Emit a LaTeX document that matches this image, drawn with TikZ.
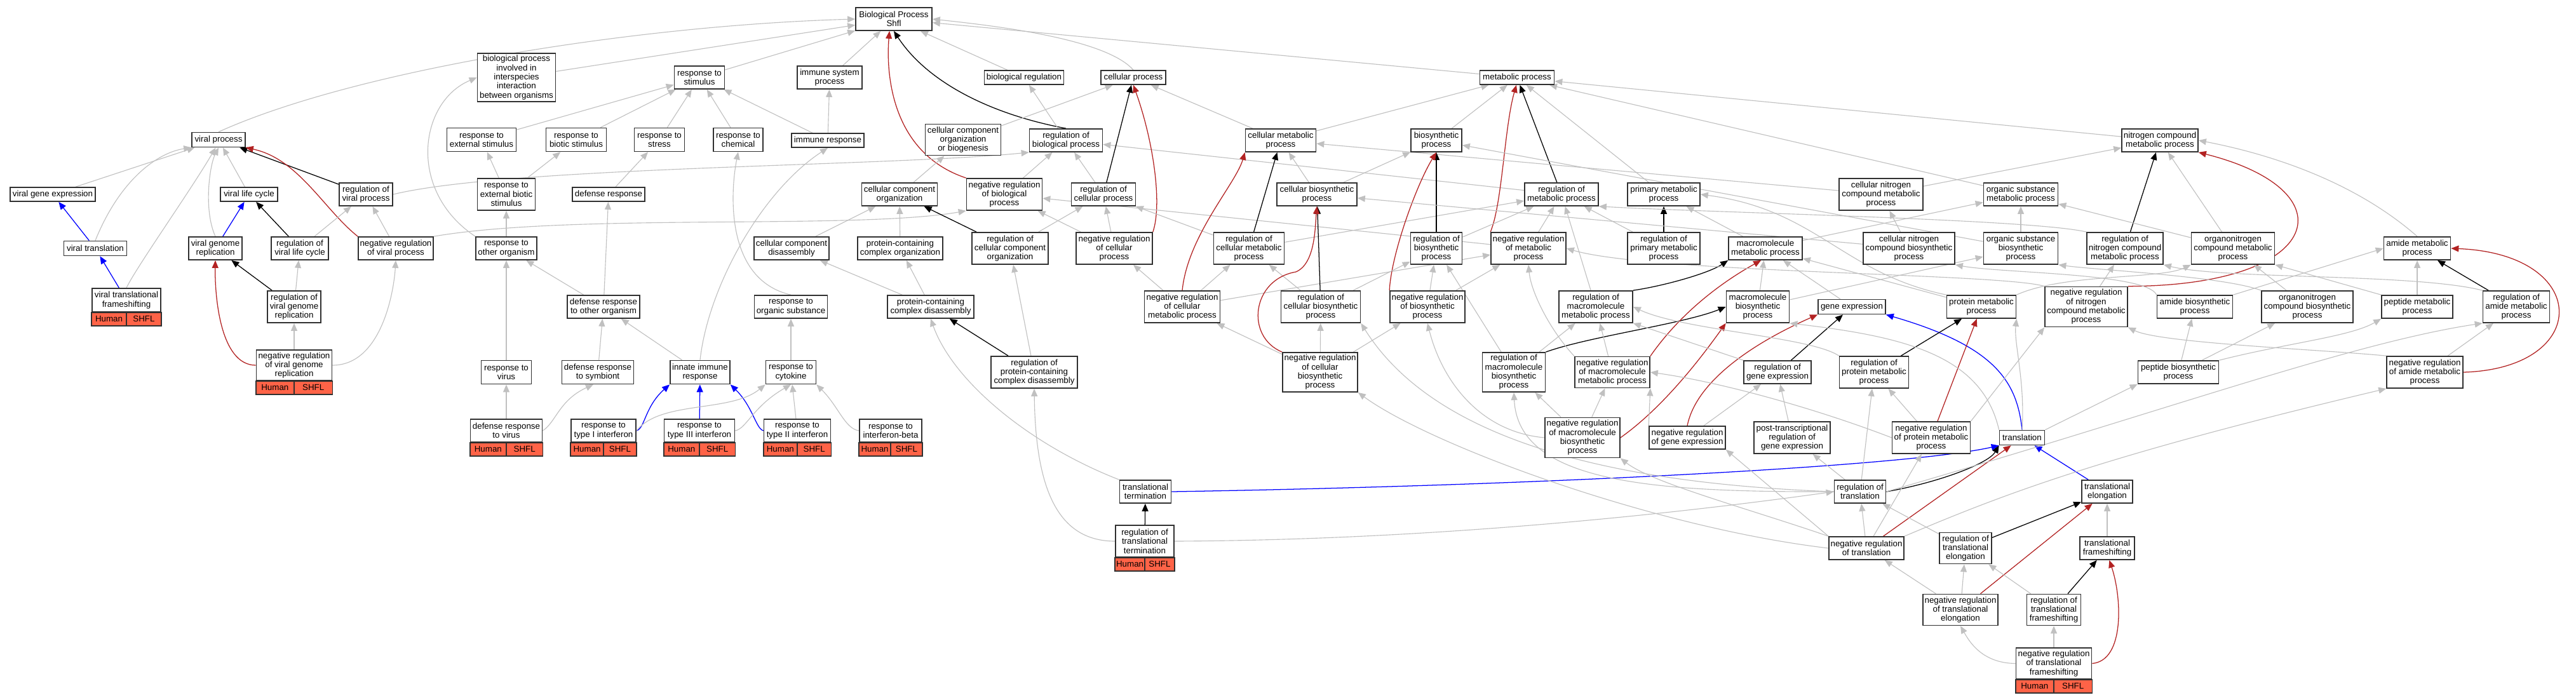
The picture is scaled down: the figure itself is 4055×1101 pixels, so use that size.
\documentclass[tikz,border=0pt]{standalone}
\usepackage{fontspec}
\setmainfont{Liberation Sans}
\usetikzlibrary{arrows.meta,calc,backgrounds}

\definecolor{isagray}{RGB}{192,192,192}
\definecolor{negred}{RGB}{178,34,34}
\definecolor{partblue}{RGB}{0,0,255}
\definecolor{hitred}{RGB}{255,99,71}
\definecolor{boxline}{RGB}{48,48,48}

\tikzset{
  gobox/.style={draw=boxline, line width=1.2pt, fill=white, align=center, inner sep=0pt, font=\fontsize{9.5}{10.2}\selectfont},
  boxw/.style={minimum width=#1*0.025cm},
  boxh/.style={minimum height=#1*0.025cm},
  hitcell/.style={draw=boxline, line width=1.2pt, fill=hitred},
  hittext/.style={inner sep=0pt, font=\fontsize{9.5}{10.2}\selectfont},
  isa/.style={draw=isagray, line width=0.8pt, -{Triangle[length=3mm,width=2.5mm]}},
  reg/.style={draw=black, line width=0.9pt, -{Triangle[length=3mm,width=2.5mm]}},
  negreg/.style={draw=negred, line width=0.9pt, -{Triangle[length=3mm,width=2.5mm]}},
  partof/.style={draw=partblue, line width=0.9pt, -{Triangle[length=3mm,width=2.5mm]}},
}

% Human / SHFL strip under a hit term
\newcommand{\hitrow}[1]{%
  \coordinate (#1-a) at (#1.south west);
  \coordinate (#1-b) at (#1.south);
  \coordinate (#1-c) at (#1.south east);
  \draw[hitcell] (#1-a) rectangle ($(#1-b)+(0,21)$);
  \draw[hitcell] (#1-b) rectangle ($(#1-c)+(0,21)$);
  \node[hittext] (#1-h) at ($(#1-a)!.5!(#1-b)+(0,10.5)$) {Human};
  \node[hittext] (#1-s) at ($(#1-b)!.5!(#1-c)+(0,10.5)$) {SHFL};}

\begin{document}
\begin{tikzpicture}[x=0.025cm, y=-0.025cm]
\useasboundingbox (0,0) rectangle (4055,1101);

% Root
\node[gobox, boxw=120, boxh=36] (bp) at (1407,30) {Biological Process\\Shfl};

% First row
\node[gobox, boxw=123, boxh=76] (bpii) at (813,122) {biological process\\involved in\\interspecies\\interaction\\between organisms};
\node[gobox, boxw=79, boxh=36] (rts) at (1101,122) {response to\\stimulus};
\node[gobox, boxw=102, boxh=36] (isp) at (1306,122) {immune system\\process};
\node[gobox, boxw=125, boxh=22] (br) at (1612,122) {biological regulation};
\node[gobox, boxw=102, boxh=22] (cp) at (1784,122) {cellular process};
\node[gobox, boxw=117, boxh=22] (mp) at (2388,122) {metabolic process};

% Second row
\node[gobox, boxw=84, boxh=23] (vp) at (344,220) {viral process};
\node[gobox, boxw=109, boxh=37] (res) at (758,220) {response to\\external stimulus};
\node[gobox, boxw=95, boxh=37] (rbs) at (907,220) {response to\\biotic stimulus};
\node[gobox, boxw=79, boxh=37] (rtst) at (1038,220) {response to\\stress};
\node[gobox, boxw=78, boxh=37] (rtc) at (1162,220) {response to\\chemical};
\node[gobox, boxw=114, boxh=22] (ir) at (1303,221) {immune response};
\node[gobox, boxw=119, boxh=49] (ccob) at (1516,220) {cellular component\\organization\\or biogenesis};
\node[gobox, boxw=115, boxh=36] (rbp) at (1678,221) {regulation of\\biological process};
\node[gobox, boxw=111, boxh=36] (cmp) at (2016,221) {cellular metabolic\\process};
\node[gobox, boxw=80, boxh=36] (bsp) at (2261,221) {biosynthetic\\process};
\node[gobox, boxw=120, boxh=36] (ncmp) at (3400,221) {nitrogen compound\\metabolic process};

% Third row
\node[gobox, boxw=134, boxh=22] (vge) at (83,306) {viral gene expression};
\node[gobox, boxw=90, boxh=22] (vlc) at (392,306) {viral life cycle};
\node[gobox, boxw=84, boxh=36] (rvp) at (576,306) {regulation of\\viral process};
\node[gobox, boxw=91, boxh=50] (rebs) at (797,306) {response to\\external biotic\\stimulus};
\node[gobox, boxw=114, boxh=22] (dr) at (958,306) {defense response};
\node[gobox, boxw=119, boxh=36] (cco) at (1416,306) {cellular component\\organization};
\node[gobox, boxw=119, boxh=50] (nrbp) at (1581,306) {negative regulation\\of biological\\process};
\node[gobox, boxw=101, boxh=36] (rcp) at (1737,306) {regulation of\\cellular process};
\node[gobox, boxw=126, boxh=36] (cbp) at (2073,306) {cellular biosynthetic\\process};
\node[gobox, boxw=116, boxh=36] (rmp) at (2458,306) {regulation of\\metabolic process};
\node[gobox, boxw=114, boxh=36] (pmp) at (2619,306) {primary metabolic\\process};
\node[gobox, boxw=132, boxh=50] (cncmp) at (2961,306) {cellular nitrogen\\compound metabolic\\process};
\node[gobox, boxw=117, boxh=36] (osmp) at (3181,306) {organic substance\\metabolic process};

% Fourth row
\node[gobox, boxw=99, boxh=23] (vt) at (150,391) {viral translation};
\node[gobox, boxw=84, boxh=36] (vgr) at (339,391) {viral genome\\replication};
\node[gobox, boxw=90, boxh=36] (rvlc) at (472,391) {regulation of\\viral life cycle};
\node[gobox, boxw=118, boxh=36] (nrvp) at (623,391) {negative regulation\\of viral process};
\node[gobox, boxw=96, boxh=36] (rtoo) at (797,391) {response to\\other organism};
\node[gobox, boxw=118, boxh=36] (ccd) at (1246,391) {cellular component\\disassembly};
\node[gobox, boxw=134, boxh=36] (pcco) at (1417,391) {protein-containing\\complex organization};
\node[gobox, boxw=120, boxh=50] (rcco) at (1590,391) {regulation of\\cellular component\\organization};
\node[gobox, boxw=120, boxh=50] (nrcp) at (1754,391) {negative regulation\\of cellular\\process};
\node[gobox, boxw=111, boxh=50] (rcmp) at (1966,391) {regulation of\\cellular metabolic\\process};
\node[gobox, boxw=81, boxh=50] (rbsp) at (2261,391) {regulation of\\biosynthetic\\process};
\node[gobox, boxw=118, boxh=50] (nrmp) at (2406,391) {negative regulation\\of metabolic\\process};
\node[gobox, boxw=114, boxh=50] (rpmp) at (2619,391) {regulation of\\primary metabolic\\process};
\node[gobox, boxw=116, boxh=36] (mmp) at (2779,391) {macromolecule\\metabolic process};
\node[gobox, boxw=144, boxh=50] (cncbp) at (3005,391) {cellular nitrogen\\compound biosynthetic\\process};
\node[gobox, boxw=117, boxh=50] (osbp) at (3181,391) {organic substance\\biosynthetic\\process};
\node[gobox, boxw=120, boxh=50] (rncmp) at (3345,391) {regulation of\\nitrogen compound\\metabolic process};
\node[gobox, boxw=131, boxh=50] (oncmp) at (3515,391) {organonitrogen\\compound metabolic\\process};
\node[gobox, boxw=105, boxh=36] (amp) at (3805,391) {amide metabolic\\process};

% Fifth row
\node[gobox, boxw=108, boxh=37] (vtf) at (199,472.5) {viral translational\\frameshifting};
\node[gobox, boxw=84, boxh=50] (rvgr) at (463,483) {regulation of\\viral genome\\replication};
\node[gobox, boxw=114, boxh=36] (drtoo) at (950,483) {defense response\\to other organism};
\node[gobox, boxw=115, boxh=36] (rtos) at (1245,483) {response to\\organic substance};
\node[gobox, boxw=136, boxh=36] (pccd) at (1465,483) {protein-containing\\complex disassembly};
\node[gobox, boxw=119, boxh=50] (nrcmp) at (1861,483) {negative regulation\\of cellular\\metabolic process};
\node[gobox, boxw=125, boxh=50] (rcbp) at (2079,483) {regulation of\\cellular biosynthetic\\process};
\node[gobox, boxw=118, boxh=50] (nrbsp) at (2247,483) {negative regulation\\of biosynthetic\\process};
\node[gobox, boxw=116, boxh=50] (rmmp) at (2512,483) {regulation of\\macromolecule\\metabolic process};
\node[gobox, boxw=99, boxh=50] (mbp) at (2767,483) {macromolecule\\biosynthetic\\process};
\node[gobox, boxw=106, boxh=23] (ge) at (2915,483) {gene expression};
\node[gobox, boxw=109, boxh=36] (prmp) at (3119,483) {protein metabolic\\process};
\node[gobox, boxw=130, boxh=63] (nrncmp) at (3284,483) {negative regulation\\of nitrogen\\compound metabolic\\process};
\node[gobox, boxw=119, boxh=36] (abp) at (3455,483) {amide biosynthetic\\process};
\node[gobox, boxw=144, boxh=50] (oncbp) at (3632,483) {organonitrogen\\compound biosynthetic\\process};
\node[gobox, boxw=112, boxh=36] (ptmp) at (3805,483) {peptide metabolic\\process};
\node[gobox, boxw=105, boxh=50] (ramp) at (3961,483) {regulation of\\amide metabolic\\process};

% Sixth row
\node[gobox, boxw=119, boxh=48] (nrvgr) at (463,575) {negative regulation\\of viral genome\\replication};
\node[gobox, boxw=79, boxh=37] (rtv) at (797,586) {response to\\virus};
\node[gobox, boxw=113, boxh=37] (drts) at (941,586) {defense response\\to symbiont};
\node[gobox, boxw=94, boxh=37] (iir) at (1102,586) {innate immune\\response};
\node[gobox, boxw=79, boxh=37] (rtcy) at (1245,586) {response to\\cytokine};
\node[gobox, boxw=136, boxh=50] (rpccd) at (1628,586) {regulation of\\protein-containing\\complex disassembly};
\node[gobox, boxw=118, boxh=62] (nrcbp) at (2078,586) {negative regulation\\of cellular\\biosynthetic\\process};
\node[gobox, boxw=99, boxh=62] (rmbp) at (2383,586) {regulation of\\macromolecule\\biosynthetic\\process};
\node[gobox, boxw=118, boxh=49] (nrmmp) at (2538,586) {negative regulation\\of macromolecule\\metabolic process};
\node[gobox, boxw=106, boxh=36] (rge) at (2798,586) {regulation of\\gene expression};
\node[gobox, boxw=109, boxh=50] (rprmp) at (2950,586) {regulation of\\protein metabolic\\process};
\node[gobox, boxw=127, boxh=36] (pbp) at (3429,586) {peptide biosynthetic\\process};
\node[gobox, boxw=120, boxh=50] (nramp) at (3817,586) {negative regulation\\of amide metabolic\\process};

% Seventh row
\node[gobox, boxw=113, boxh=36] (drtv) at (797,678) {defense response\\to virus};
\node[gobox, boxw=102, boxh=36] (rt1) at (950,678) {response to\\type I interferon};
\node[gobox, boxw=111, boxh=36] (rt3) at (1101,678) {response to\\type III interferon};
\node[gobox, boxw=105, boxh=36] (rt2) at (1255,678) {response to\\type II interferon};
\node[gobox, boxw=98, boxh=36] (rtib) at (1402,678) {response to\\interferon-beta};
\node[gobox, boxw=118, boxh=63] (nrmbp) at (2491,689) {negative regulation\\of macromolecule\\biosynthetic\\process};
\node[gobox, boxw=120, boxh=36] (nrge) at (2656,689) {negative regulation\\of gene expression};
\node[gobox, boxw=120, boxh=50] (ptrge) at (2821,689) {post-transcriptional\\regulation of\\gene expression};
\node[gobox, boxw=123, boxh=50] (nrprmp) at (3040,689) {negative regulation\\of protein metabolic\\process};
\node[gobox, boxw=71, boxh=23] (tr) at (3183,689) {translation};

% Translation rows
\node[gobox, boxw=81, boxh=36] (tt) at (1803,774) {translational\\termination};
\node[gobox, boxw=81, boxh=36] (rt) at (2928,774) {regulation of\\translation};
\node[gobox, boxw=80, boxh=36] (te) at (3317,774) {translational\\elongation};
\node[gobox, boxw=92, boxh=50] (rtt) at (1802,852) {regulation of\\translational\\termination};
\node[gobox, boxw=118, boxh=36] (nrt) at (2938,863) {negative regulation\\of translation};
\node[gobox, boxw=82, boxh=49] (rte) at (3094,863) {regulation of\\translational\\elongation};
\node[gobox, boxw=86, boxh=36] (tf) at (3317,863) {translational\\frameshifting};
\node[gobox, boxw=118, boxh=49] (nrte) at (3086,960) {negative regulation\\of translational\\elongation};
\node[gobox, boxw=85, boxh=49] (rtf) at (3233,960) {regulation of\\translational\\frameshifting};
\node[gobox, boxw=119, boxh=49] (nrtf) at (3233,1044.5) {negative regulation\\of translational\\frameshifting};

% Hit strips
\hitrow{vtf}
\hitrow{nrvgr}
\hitrow{drtv}
\hitrow{rt1}
\hitrow{rt3}
\hitrow{rt2}
\hitrow{rtib}
\hitrow{rtt}
\hitrow{nrtf}

\begin{scope}[on background layer]
% Edges into the root
\draw[isa] (vp.north) .. controls (560,110) and (1000,40) .. (bp.west);
\draw[isa] (bpii) -- (bp);
\draw[isa] (rts) -- (bp);
\draw[isa] (isp) -- (bp);
\draw[isa] (br) -- (bp);
\draw[isa] (cp.north) .. controls (1740,60) and (1560,40) .. (bp.east);
\draw[isa] (mp) -- (bp);
\draw[reg] (rbp.north) .. controls (1560,180) and (1460,130) .. (bp.south);
\draw[negreg] (nrbp.north west) .. controls (1400,240) and (1395,110) .. (bp.250);

% Viral branch
\draw[isa] (vge) -- (vp);
\draw[isa] (vlc) -- (vp);
\draw[isa] (vt.north) .. controls (190,280) and (250,240) .. (vp.south west);
\draw[isa] (vgr.north) .. controls (320,330) and (330,260) .. (vp.south);
\draw[isa] (vtf.north) .. controls (215,420) and (300,300) .. (vp.250);
\draw[reg] (rvp) -- (vp);
\draw[negreg] (nrvp.north west) .. controls (510,330) and (470,250) .. (vp.south east);
\draw[partof] (vt) -- (vge);
\draw[partof] (vtf) -- (vt);
\draw[partof] (vgr) -- (vlc);
\draw[reg] (rvlc) -- (vlc);
\draw[isa] (rvlc) -- (rvp);
\draw[isa] (nrvp) -- (rvp);
\draw[reg] (rvgr) -- (vgr);
\draw[isa] (rvgr) -- (rvlc);
\draw[isa] (nrvgr) -- (rvgr);
\draw[negreg] (nrvgr.west) .. controls (345,575) and (338,460) .. (vgr.south);
\draw[isa] (nrvgr.east) .. controls (600,575) and (620,460) .. (nrvp.south);
\draw[isa] (rvp.east) .. controls (800,262) and (1400,262) .. (rbp.south west);
\draw[isa] (nrvp.north east) .. controls (900,335) and (1350,362) .. (nrbp.south west);

% Response branch
\draw[isa] (rtoo.north west) .. controls (640,300) and (660,160) .. (bpii.west);
\draw[isa] (res) -- (rts);
\draw[isa] (rbs) -- (rts);
\draw[isa] (rtst) -- (rts);
\draw[isa] (rtc) -- (rts);
\draw[isa] (ir) -- (rts);
\draw[isa] (ir) -- (isp);
\draw[isa] (rebs) -- (res);
\draw[isa] (rebs) -- (rbs);
\draw[isa] (dr) -- (rtst);
\draw[isa] (rtoo) -- (rebs);
\draw[isa] (drtoo) -- (rtoo);
\draw[isa] (drtoo) -- (dr);
\draw[isa] (rtos.north) .. controls (1140,440) and (1150,300) .. (rtc.south);
\draw[isa] (rtv) -- (rtoo);
\draw[isa] (drts) -- (drtoo);
\draw[isa] (iir) -- (drtoo);
\draw[isa] (iir.north) .. controls (1115,450) and (1200,300) .. (ir.south);
\draw[isa] (rtcy) -- (rtos);
\draw[isa] (drtv) -- (rtv);
\draw[isa] (drtv.east) .. controls (875,665) and (880,630) .. (drts.250);
\draw[partof] (rt1.east) .. controls (1015,675) and (1015,640) .. (iir.south west);
\draw[partof] (rt3) -- (iir);
\draw[partof] (rt2.west) .. controls (1190,675) and (1185,640) .. (iir.south east);
\draw[isa] (rt1.east) .. controls (1040,630) and (1150,650) .. (rtcy.south west);
\draw[isa] (rt3.east) .. controls (1175,675) and (1185,640) .. (rtcy.south);
\draw[isa] (rt2) -- (rtcy);
\draw[isa] (rtib.west) .. controls (1330,675) and (1320,640) .. (rtcy.south east);

% Cellular process branch
\draw[isa] (ccob) -- (cp);
\draw[isa] (rbp) -- (br);
\draw[isa] (cmp) -- (cp);
\draw[isa] (cco) -- (ccob);
\draw[isa] (nrbp) -- (rbp);
\draw[isa] (rcp) -- (rbp);
\draw[isa] (rmp) -- (rbp);
\draw[reg] (rcp) -- (cp);
\draw[negreg] (nrcp.north east) .. controls (1830,320) and (1815,220) .. (cp.south);
\draw[isa] (pcco) -- (cco);
\draw[isa] (ccd) -- (cco);
\draw[reg] (rcco) -- (cco);
\draw[isa] (rcco) -- (rcp);
\draw[isa] (nrcp) -- (nrbp);
\draw[isa] (nrcp) -- (rcp);
\draw[isa] (nrmp) -- (nrbp);
\draw[isa] (rcmp) -- (rcp);
\draw[isa] (rcmp) -- (rmp);
\draw[isa] (pccd) -- (pcco);
\draw[isa] (pccd) -- (ccd);
\draw[isa] (nrcmp) -- (nrcp);
\draw[isa] (nrcmp) -- (rcmp);
\draw[isa] (nrcmp) -- (nrmp);
\draw[reg] (rcmp) -- (cmp);
\draw[negreg] (nrcmp.north) .. controls (1870,370) and (1945,290) .. (cmp.south west);
\draw[isa] (rpccd) -- (rcco);
\draw[reg] (rpccd) -- (pccd);
\draw[isa] (tt.north west) .. controls (1620,700) and (1500,600) .. (pccd.south);
\draw[reg] (rtt) -- (tt);
\draw[isa] (rtt.west) .. controls (1660,852) and (1630,760) .. (rpccd.south);
\draw[isa] (rtt.east) .. controls (2300,850) and (2700,800) .. (rt.west);
\draw[partof] (tt.east) .. controls (2400,765) and (3000,735) .. (tr.south west);

% Metabolic branch
\draw[isa] (cmp) -- (mp);
\draw[isa] (bsp) -- (mp);
\draw[isa] (pmp) -- (mp);
\draw[isa] (ncmp) -- (mp);
\draw[isa] (osmp) -- (mp);
\draw[reg] (rmp) -- (mp);
\draw[negreg] (nrmp.north west) .. controls (2365,320) and (2368,200) .. (mp.265);
\draw[isa] (cbp) -- (cmp);
\draw[isa] (cbp) -- (bsp);
\draw[isa] (cncmp) -- (cmp);
\draw[isa] (cncmp) -- (ncmp);
\draw[isa] (osbp) -- (bsp);
\draw[isa] (osbp) -- (osmp);
\draw[reg] (rbsp) -- (bsp);
\draw[negreg] (nrbsp.north west) .. controls (2190,400) and (2230,290) .. (bsp.south);
\draw[isa] (rbsp) -- (rmp);
\draw[isa] (nrmp) -- (rmp);
\draw[reg] (rpmp) -- (pmp);
\draw[isa] (rpmp) -- (rmp);
\draw[reg] (rcbp) -- (cbp);
\draw[isa] (rcbp) -- (rcmp);
\draw[isa] (rcbp) -- (rbsp);
\draw[isa] (nrbsp) -- (rbsp);
\draw[isa] (nrbsp) -- (nrmp);
\draw[isa] (rmmp) -- (rmp);
\draw[reg] (rmmp.north east) .. controls (2620,450) and (2690,430) .. (mmp.south west);
\draw[isa] (nrcbp) -- (rcbp);
\draw[isa] (nrcbp) -- (nrcmp);
\draw[isa] (nrcbp) -- (nrbsp);
\draw[negreg] (nrcbp.north west) .. controls (1960,530) and (1970,440) .. (2040,428) .. controls (2070,415) and (2070,360) .. (cbp.south);
\draw[isa] (rmbp) -- (rbsp);
\draw[isa] (rmbp) -- (rmmp);
\draw[reg] (rmbp.north east) .. controls (2500,530) and (2650,510) .. (mbp.west);
\draw[isa] (nrmmp) -- (rmmp);
\draw[isa] (nrmmp.north west) .. controls (2440,520) and (2410,460) .. (nrmp.south);
\draw[negreg] (nrmmp.north east) .. controls (2640,500) and (2700,450) .. (mmp.250);
\draw[isa] (nrmbp) -- (rmbp);
\draw[isa] (nrmbp) -- (nrmmp);
\draw[isa] (nrmbp.west) .. controls (2330,680) and (2270,600) .. (nrbsp.south);
\draw[negreg] (nrmbp.east) .. controls (2620,640) and (2680,560) .. (mbp.south west);
\draw[isa] (cncbp) -- (cncmp);
\draw[isa] (cncbp) -- (cbp);
\draw[reg] (rncmp) -- (ncmp);
\draw[isa] (rncmp.north west) .. controls (3200,345) and (2700,335) .. (rmp.south east);
\draw[isa] (mmp) -- (osmp);
\draw[isa] (mmp) -- (pmp);
\draw[isa] (mbp) -- (mmp);
\draw[isa] (mbp) -- (osbp);
\draw[isa] (ge) -- (mmp);
\draw[reg] (rge) -- (ge);
\draw[negreg] (nrge.north) .. controls (2670,600) and (2760,540) .. (ge.south west);
\draw[partof] (tr.north) .. controls (3175,600) and (3140,545) .. (ge.south east);
\draw[isa] (prmp) -- (mmp);
\draw[isa] (prmp.north west) .. controls (2900,430) and (2860,330) .. (pmp.east);
\draw[isa] (prmp.north east) .. controls (3250,430) and (3400,440) .. (oncmp.south west);
\draw[isa] (nrncmp) -- (rncmp);
\draw[isa] (nrncmp.north west) .. controls (3150,430) and (2600,430) .. (nrmp.east);
\draw[negreg] (nrncmp.north east) .. controls (3660,450) and (3700,300) .. (ncmp.south east);
\draw[isa] (oncmp) -- (ncmp);
\draw[isa] (oncmp) -- (osmp);
\draw[isa] (amp.north) .. controls (3700,280) and (3560,240) .. (ncmp.east);
\draw[isa] (abp.north east) -- (amp.west);
\draw[isa] (abp.north west) .. controls (3380,430) and (3150,430) .. (cncbp.south east);
\draw[isa] (oncbp) -- (oncmp);
\draw[isa] (oncbp.north west) .. controls (3500,435) and (3300,425) .. (osbp.south east);
\draw[isa] (ptmp) -- (amp);
\draw[isa] (ptmp.north west) -- (oncmp.south east);
\draw[reg] (ramp) -- (amp);
\draw[isa] (ramp.north west) .. controls (3800,430) and (3500,440) .. (rncmp.south east);
\draw[isa] (pbp) -- (abp);
\draw[isa] (pbp) -- (oncbp);
\draw[isa] (pbp.north east) .. controls (3600,540) and (3700,530) .. (ptmp.south west);
\draw[negreg] (nramp.east) .. controls (4080,580) and (4080,400) .. (amp.east);
\draw[isa] (nramp) -- (ramp);
\draw[isa] (nramp.north west) .. controls (3650,550) and (3400,540) .. (nrncmp.south east);

% Gene expression and protein metabolism
\draw[isa] (rge.north west) -- (rmmp.south east);
\draw[reg] (rprmp) -- (prmp);
\draw[isa] (rprmp.north west) .. controls (2850,530) and (2650,520) .. (rmmp.east);
\draw[isa] (nrge) -- (rge);
\draw[isa] (nrge.north west) -- (nrmmp.south east);
\draw[isa] (ptrge) -- (rge);
\draw[isa] (nrprmp) -- (rprmp);
\draw[isa] (nrprmp.west) .. controls (2850,640) and (2700,600) .. (nrmmp.east);
\draw[isa] (nrprmp.north east) -- (nrncmp.south west);
\draw[negreg] (nrprmp) -- (prmp);

% Translation
\draw[isa] (tr.north) .. controls (3188,600) and (3170,540) .. (prmp.south east);
\draw[isa] (tr.north east) -- (pbp.south west);
\draw[isa] (tr.north west) .. controls (3120,560) and (3000,530) .. (mbp.south east);
\draw[reg] (rt.east) .. controls (3050,760) and (3130,730) .. (tr.south west);
\draw[negreg] (nrt) -- (tr);
\draw[partof] (te) -- (tr);
\draw[isa] (rt) -- (rprmp);
\draw[isa] (rt) -- (ptrge);
\draw[isa] (rt.west) .. controls (2600,775) and (2390,760) .. (rmbp.south);
\draw[isa] (rt.west) .. controls (2500,760) and (2250,680) .. (rcbp.south east);
\draw[isa] (rt.east) .. controls (3400,650) and (3700,540) .. (ramp.south west);
\draw[isa] (rte) -- (rt);
\draw[reg] (rte) -- (te);
\draw[isa] (tf) -- (te);
\draw[isa] (nrt) -- (rt);
\draw[isa] (nrt.north west) -- (nrge.south east);
\draw[isa] (nrt) -- (nrprmp);
\draw[isa] (nrt.west) .. controls (2600,830) and (2250,700) .. (nrcbp.south east);
\draw[isa] (nrt.north west) .. controls (2750,800) and (2600,760) .. (nrmbp.south east);
\draw[isa] (nrt.north east) .. controls (3150,780) and (3300,720) .. (nramp.south west);
\draw[negreg] (nrte) -- (te);
\draw[isa] (nrte) -- (rte);
\draw[isa] (nrte) -- (nrt);
\draw[reg] (rtf) -- (tf);
\draw[isa] (rtf) -- (rte);
\draw[isa] (nrtf) -- (rtf);
\draw[negreg] (nrtf.east) .. controls (3345,1040) and (3340,940) .. (tf.280);
\draw[isa] (nrtf.west) .. controls (3120,1044) and (3100,1010) .. (nrte.south);
\end{scope}

\end{tikzpicture}
\end{document}
